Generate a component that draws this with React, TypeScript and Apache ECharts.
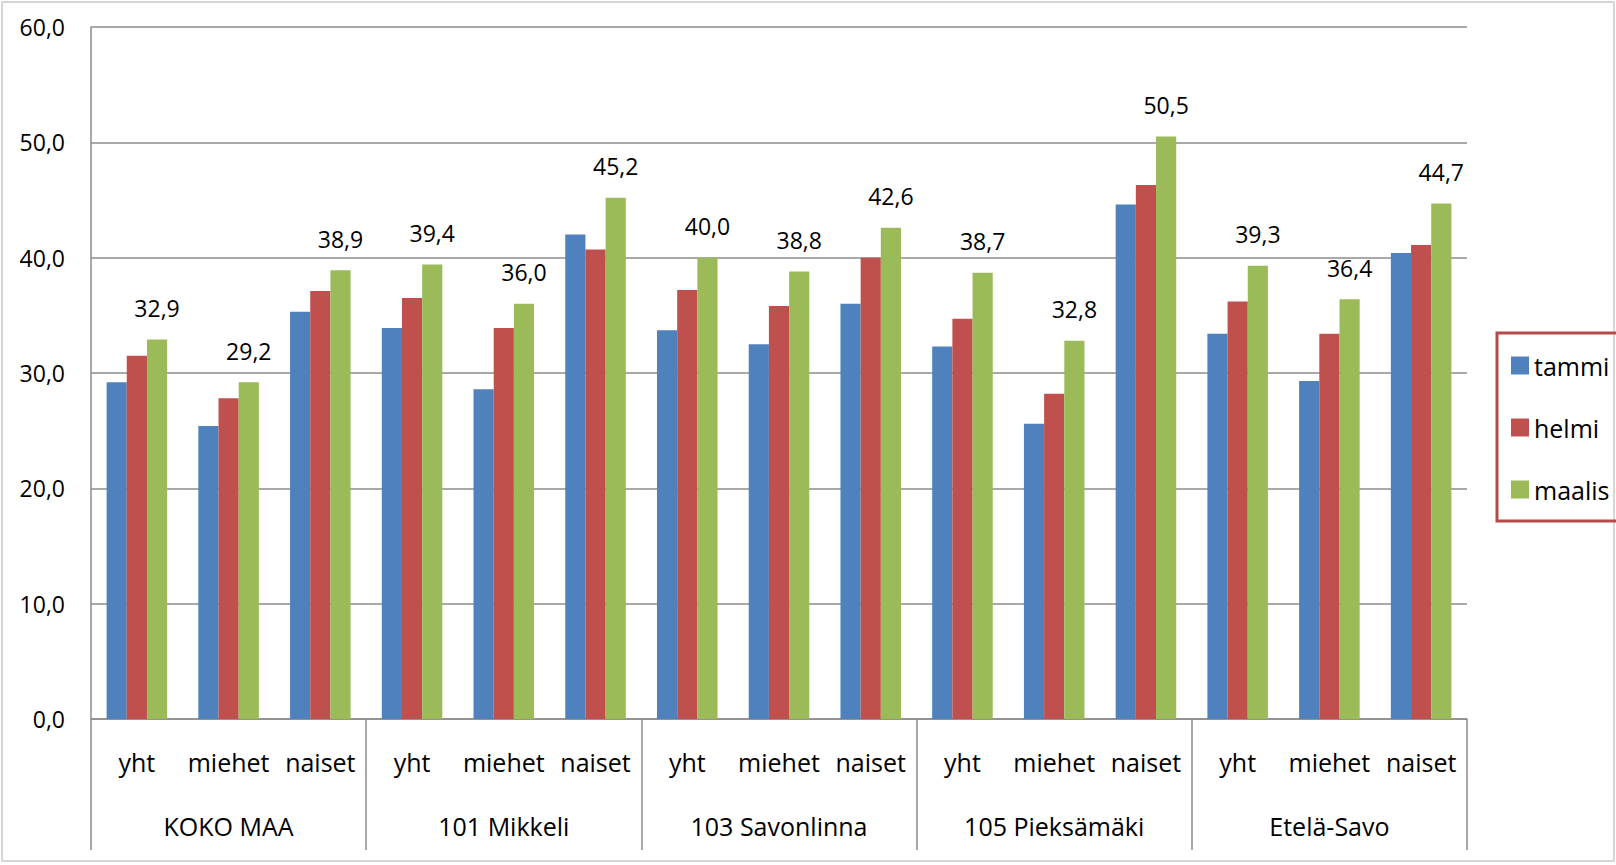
import React, { useEffect, useRef } from "react";
import * as echarts from "echarts";

const subCategories = [
  "yht", "miehet", "naiset",
  "yht", "miehet", "naiset",
  "yht", "miehet", "naiset",
  "yht", "miehet", "naiset",
  "yht", "miehet", "naiset",
];
const groupCategories = ["KOKO MAA", "101 Mikkeli", "103 Savonlinna", "105 Pieksämäki", "Etelä-Savo"];
const seriesNames = ["tammi", "helmi", "maalis"];
const tammi = [29.2, 25.4, 35.3, 33.9, 28.6, 42.0, 33.7, 32.5, 36.0, 32.3, 25.6, 44.6, 33.4, 29.3, 40.4];
const helmi = [31.5, 27.8, 37.1, 36.5, 33.9, 40.7, 37.2, 35.8, 40.0, 34.7, 28.2, 46.3, 36.2, 33.4, 41.1];
const maalis = [32.9, 29.2, 38.9, 39.4, 36.0, 45.2, 40.0, 38.8, 42.6, 38.7, 32.8, 50.5, 39.3, 36.4, 44.7];
const colors = ["#4f81bd", "#c0504d", "#9bbb59"];

const FONT = "'Open Sans', 'Noto Sans', sans-serif";
const fmt = (v: number) => v.toFixed(1).replace(".", ",");

export default function App() {
  const ref = useRef<HTMLDivElement>(null);
  useEffect(() => {
    if (!ref.current) return;
    const chart = echarts.init(ref.current, undefined, { renderer: "svg" });
    const values = [tammi, helmi, maalis];
    chart.setOption({
      animation: false,
      backgroundColor: "#ffffff",
      textStyle: { fontFamily: FONT },
      color: colors,
      graphic: [
        {
          type: "rect",
          shape: { x: 2, y: 2, width: 1612, height: 859 },
          style: { fill: "none", stroke: "#d6d6d6", lineWidth: 2 },
          silent: true,
        },
      ],
      legend: {
        orient: "vertical",
        left: 1497,
        top: 333,
        itemWidth: 18,
        itemHeight: 18,
        itemGap: 37,
        padding: [20, 30, 19, 14],
        borderColor: "#b54b48",
        borderWidth: 3,
        data: seriesNames.map((n) => ({ name: n, icon: "rect" })),
        textStyle: { fontFamily: FONT, fontSize: 25, color: "#000", lineHeight: 25 },
      },
      grid: { left: 91, right: 149, top: 27, bottom: 146, containLabel: false },
      xAxis: [
        {
          type: "category",
          data: subCategories,
          position: "bottom",
          axisLine: { show: true, lineStyle: { color: "#8c8c8c", width: 1.5 } },
          axisTick: { show: false },
          axisLabel: { interval: 0, margin: 30, fontFamily: FONT, fontSize: 25, color: "#000" },
        },
        {
          type: "category",
          data: groupCategories,
          position: "bottom",
          axisLine: { show: false },
          axisTick: { show: true, length: 131, interval: 0, lineStyle: { color: "#8c8c8c", width: 1.5 } },
          axisLabel: { interval: 0, margin: 94, fontFamily: FONT, fontSize: 25, color: "#000" },
        },
      ],
      yAxis: {
        type: "value",
        min: 0,
        max: 60,
        interval: 10,
        axisLine: { show: true, lineStyle: { color: "#8c8c8c", width: 1.5 } },
        axisTick: { show: false },
        splitLine: { lineStyle: { color: "#8c8c8c", width: 1.5 } },
        axisLabel: { margin: 26, fontFamily: FONT, fontSize: 23, color: "#000", formatter: (v: number) => fmt(v) },
      },
      series: seriesNames.map((name, i) => ({
        name,
        type: "bar",
        xAxisIndex: 0,
        data: values[i],
        barGap: "0%",
        barCategoryGap: "34%",
        itemStyle: { color: colors[i] },
        label:
          i === 2
            ? {
                show: true,
                position: "top",
                distance: 20,
                fontFamily: FONT,
                fontSize: 23,
                color: "#000",
                formatter: (p: any) => fmt(p.value),
              }
            : { show: false },
      })),
    });
    return () => chart.dispose();
  }, []);
  return (
    <div
      ref={ref}
      style={{ position: "fixed", left: 0, top: 0, width: 1616, height: 865 }}
    />
  );
}
